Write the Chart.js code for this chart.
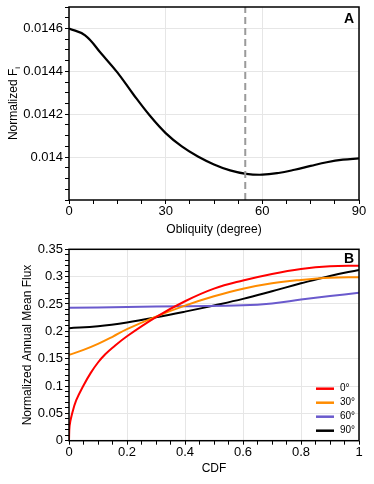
<!DOCTYPE html>
<html><head><meta charset="utf-8">
<script src="https://cdn.jsdelivr.net/npm/chart.js@4"></script>
<style>
html,body{margin:0;padding:0;background:#fff;}
canvas{position:absolute;left:0;}
#ca{top:0;}
#cb{top:240px;}
</style></head><body>
<canvas id="ca" width="374" height="240"></canvas>
<canvas id="cb" width="374" height="244"></canvas>
<script>
// ---------- Panel A data ----------
const obliquity = [0,5,10,15,20,25,30,35,40,45,50,55,60,65,70,75,80,85,90];
const fluxA = [0.014600,0.014568,0.014483,0.014395,0.014292,0.014195,0.014112,0.014050,0.014003,0.013966,0.013938,0.013922,0.013918,0.013926,0.013941,0.013959,0.013976,0.013988,0.013994];
const obliquityMarker = 54.7;
const obliquityTicks = [0,30,60,90];
const fluxATicks = [0.014,0.0142,0.0144,0.0146];
const titleA_y = 'Normalized F';
const titleA_ySub = 'i';
const titleA_x = 'Obliquity (degree)';

// ---------- Panel B data ----------
const seriesLabels = ['0°','30°','60°','90°'];
const seriesColors = ['#ff0000','#ff8c00','#6a5acd','#000000'];
const cdf0  = [0,0.002,0.01,0.025,0.05,0.075,0.1,0.125,0.15,0.2,0.3,0.4,0.5,0.6,0.7,0.8,0.9,1.0];
const flux0 = [0,0.027,0.048,0.074,0.101,0.124,0.143,0.158,0.170,0.191,0.226,0.255,0.278,0.293,0.305,0.314,0.319,0.320];
const cdf30  = [0,0.05,0.1,0.15,0.2,0.3,0.4,0.5,0.6,0.7,0.8,0.9,1.0];
const flux30 = [0.157,0.166,0.177,0.190,0.204,0.227,0.247,0.264,0.278,0.288,0.294,0.298,0.299];
const cdf60  = [0,0.2,0.4,0.6,0.7,0.8,0.9,1.0];
const flux60 = [0.243,0.2445,0.246,0.2475,0.251,0.2580,0.2645,0.2705];
const cdf90  = [0,0.1,0.2,0.3,0.4,0.5,0.6,0.7,0.8,0.9,1.0];
const flux90 = [0.2058,0.2095,0.2163,0.2255,0.236,0.2473,0.2593,0.2733,0.2878,0.3013,0.3122];
const cdfTicks = [0,0.2,0.4,0.6,0.8,1];
const fluxBTicks = [0,0.05,0.1,0.15,0.2,0.25,0.3,0.35];
const titleB_y = 'Normalized Annual Mean Flux';
const titleB_x = 'CDF';

Chart.defaults.font.family = "'Liberation Sans', Arial, Helvetica, sans-serif";
Chart.defaults.color = '#000';

function steps(min, max, step) {
  const out = [];
  const n = Math.round((max - min) / step);
  for (let i = 0; i <= n; i++) out.push(Number((min + i * step).toPrecision(10)));
  return out;
}
function isMajor(v, list) { return list.some(t => Math.abs(t - v) < 1e-9); }
function fmt(v) { return String(Number(v.toPrecision(6))); }
function pts(xs, ys) { return xs.map((x, i) => ({x: x, y: ys[i]})); }

function axis(o) {
  return {
    type: 'linear', min: o.min, max: o.max,
    afterBuildTicks: s => { s.ticks = steps(o.min, o.max, o.minor).map(v => ({value: v})); },
    afterFit: s => {
      if (o.width !== undefined) s.width = o.width;
      if (o.height !== undefined) s.height = o.height;
      s.paddingTop = 0; s.paddingBottom = 0; s.paddingLeft = 0; s.paddingRight = 0;
    },
    ticks: {
      autoSkip: false, maxRotation: 0, minRotation: 0, padding: o.tickPad,
      font: {size: 13}, color: '#000',
      callback: v => isMajor(v, o.majors) ? fmt(v) : ''
    },
    grid: {
      drawTicks: true, tickLength: 4, tickWidth: 1, tickColor: '#000', lineWidth: 1,
      color: ctx => (ctx.tick && isMajor(ctx.tick.value, o.majors)) ? '#e6e6e6' : 'rgba(0,0,0,0)'
    },
    border: {display: false},
    title: o.title ? {display: true, text: o.title, color: '#000', font: {size: 12}, padding: o.titlePad} : {display: false}
  };
}

const framePlugin = {
  id: 'frame',
  afterDraw(chart, args, opts) {
    const {ctx, chartArea: a} = chart;
    ctx.save();
    ctx.strokeStyle = '#000'; ctx.lineWidth = 1.5;
    ctx.strokeRect(a.left, a.top, a.right - a.left, a.bottom - a.top);
    ctx.font = "bold 14px 'Liberation Sans', Arial, sans-serif";
    ctx.fillStyle = '#000'; ctx.textAlign = 'right'; ctx.textBaseline = 'middle';
    ctx.fillText(opts.letter, a.right - 5, a.top + opts.letterDy);
    if (opts.subTitle) {
      const cy = (a.top + a.bottom) / 2;
      ctx.translate(opts.subTitle.x, cy);
      ctx.rotate(-Math.PI / 2);
      ctx.font = "12px 'Liberation Sans', Arial, sans-serif";
      const w1 = ctx.measureText(opts.subTitle.main).width;
      ctx.font = "8px 'Liberation Sans', Arial, sans-serif";
      const w2 = ctx.measureText(opts.subTitle.sub).width;
      const x0 = -(w1 + w2) / 2;
      ctx.textAlign = 'left';
      ctx.font = "12px 'Liberation Sans', Arial, sans-serif";
      ctx.fillText(opts.subTitle.main, x0, 0);
      ctx.font = "8px 'Liberation Sans', Arial, sans-serif";
      ctx.fillText(opts.subTitle.sub, x0 + w1, 4);
    }
    if (opts.legend) {
      const ds = chart.data.datasets;
      ctx.font = "10px 'Liberation Sans', Arial, sans-serif";
      ctx.textAlign = 'left'; ctx.textBaseline = 'middle';
      const n = ds.length;
      ds.forEach((d, i) => {
        const y = a.bottom - 10 - (n - 1 - i) * 14;
        ctx.strokeStyle = d.borderColor; ctx.lineWidth = 2.5;
        ctx.beginPath(); ctx.moveTo(a.right - 43, y); ctx.lineTo(a.right - 25, y); ctx.stroke();
        ctx.fillStyle = '#000';
        ctx.fillText(d.label, a.right - 19, y);
      });
    }
    ctx.restore();
  }
};

// ---------- Chart A ----------
new Chart(document.getElementById('ca'), {
  type: 'line',
  data: {
    datasets: [
      {label: 'marker', data: [{x: obliquityMarker, y: 0.0138}, {x: obliquityMarker, y: 0.0147}],
       borderColor: '#9a9a9a', borderWidth: 2, borderDash: [7, 4], pointRadius: 0, tension: 0},
      {label: 'F', data: pts(obliquity, fluxA), borderColor: '#000', borderWidth: 2.2,
       pointRadius: 0, tension: 0.4}
    ]
  },
  options: {
    responsive: false, animation: false, devicePixelRatio: 1,
    layout: {padding: {left: 0, right: 15, top: 7, bottom: 0}},
    plugins: {legend: {display: false}, tooltip: {enabled: false},
      frame: {letter: 'A', letterDy: 12.5, subTitle: {x: 13.5, main: titleA_y, sub: titleA_ySub}}},
    scales: {
      x: axis({min: 0, max: 90, minor: 7.5, majors: obliquityTicks, height: 40, tickPad: 0,
               title: titleA_x, titlePad: {top: 0, bottom: 3}}),
      y: axis({min: 0.0138, max: 0.0147, minor: 0.00005, majors: fluxATicks, width: 69, tickPad: 2})
    }
  },
  plugins: [framePlugin]
});

// ---------- Chart B ----------
new Chart(document.getElementById('cb'), {
  type: 'line',
  data: {
    datasets: [
      {label: seriesLabels[0], data: pts(cdf0, flux0), borderColor: seriesColors[0]},
      {label: seriesLabels[1], data: pts(cdf30, flux30), borderColor: seriesColors[1]},
      {label: seriesLabels[2], data: pts(cdf60, flux60), borderColor: seriesColors[2]},
      {label: seriesLabels[3], data: pts(cdf90, flux90), borderColor: seriesColors[3]}
    ].map(d => Object.assign(d, {borderWidth: 2, pointRadius: 0, tension: 0.4}))
  },
  options: {
    responsive: false, animation: false, devicePixelRatio: 1,
    layout: {padding: {left: 0, right: 15, top: 9.3, bottom: 0}},
    plugins: {legend: {display: false}, tooltip: {enabled: false},
      frame: {letter: 'B', letterDy: 9.5, legend: true}},
    scales: {
      x: axis({min: 0, max: 1, minor: 0.05, majors: cdfTicks, height: 43.3, tickPad: 0,
               title: titleB_x, titlePad: {top: 0, bottom: 7.8}}),
      y: axis({min: 0, max: 0.35, minor: 0.01, majors: fluxBTicks, width: 69, tickPad: 2,
               title: titleB_y, titlePad: {top: 20, bottom: 0}})
    }
  },
  plugins: [framePlugin]
});
</script>
</body></html>
